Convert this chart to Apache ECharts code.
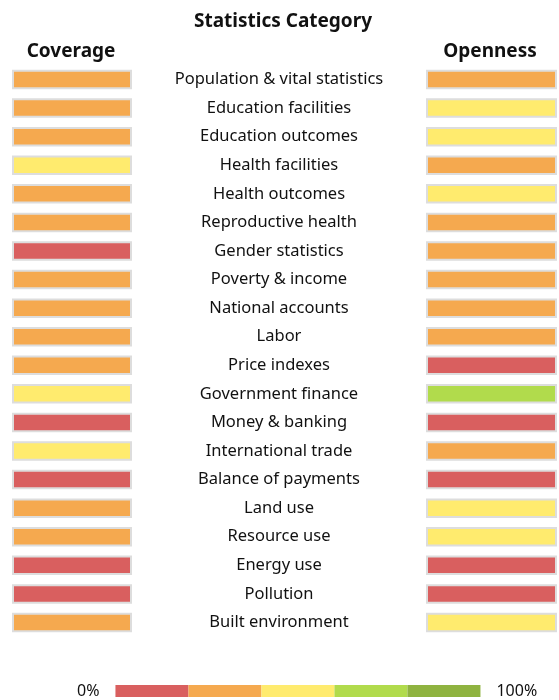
<!DOCTYPE html>
<html>
<head>
<meta charset="utf-8">
<script src="https://cdn.jsdelivr.net/npm/echarts@6/dist/echarts.min.js"></script>
<style>
  html, body { margin: 0; padding: 0; background: #fff; }
  #main { width: 559px; height: 700px; }
</style>
</head>
<body>
<div id="main"></div>
<script>
// 统计类别
var categories = ['Population & vital statistics', 'Education facilities', 'Education outcomes',
    'Health facilities', 'Health outcomes', 'Reproductive health', 'Gender statistics',
    'Poverty & income', 'National accounts', 'Labor', 'Price indexes', 'Government finance',
    'Money & banking', 'International trade', 'Balance of payments', 'Land use',
    'Resource use', 'Energy use', 'Pollution', 'Built environment'];
// 得分 (%)，按颜色区间估计
var coverage = [30, 30, 30, 50, 30, 30, 10, 30, 30, 30, 30, 50, 10, 50, 10, 30, 30, 10, 10, 30];
var openness = [30, 50, 50, 30, 50, 30, 30, 30, 30, 30, 10, 70, 10, 30, 10, 50, 50, 10, 10, 50];
var fullScale = 100; // 每格占满整列
var bands = [0, 20, 40, 60, 80, 100];
var bandColors = ['#d95f5f', '#f5a94f', '#ffeb6e', '#b1db4c', '#8fb340'];
var legendText = ['100%', '0%'];

var FONT = '"Noto Sans", "Open Sans", sans-serif';
var GAP = '\u2002\u2002'; // 图例文字与色条的间距

function cells(arr) {
    var out = [];
    for (var i = 0; i < arr.length; i++) {
        out.push([fullScale, categories[i], arr[i]]);
    }
    return out;
}

var pieces = [];
for (var i = 0; i < bandColors.length; i++) {
    pieces.push({ gte: bands[i], lt: bands[i + 1], color: bandColors[i] });
}
pieces[pieces.length - 1].lte = bands[bands.length - 1];
delete pieces[pieces.length - 1].lt;

var myChart = echarts.init(document.getElementById('main'));
var option = {
    backgroundColor: '#fff',
    animation: false,
    title: [
        { text: 'Statistics Category', left: 278, textAlign: 'center', top: 7.5,
          textStyle: { fontFamily: FONT, fontSize: 19, fontWeight: 'bold', color: '#111' } },
        { text: 'Coverage', left: 66, textAlign: 'center', top: 37,
          textStyle: { fontFamily: FONT, fontSize: 19, fontWeight: 'bold', color: '#111' } },
        { text: 'Openness', left: 485, textAlign: 'center', top: 37,
          textStyle: { fontFamily: FONT, fontSize: 19, fontWeight: 'bold', color: '#111' } }
    ],
    grid: [
        { left: 12, width: 120, top: 65.2, height: 571.6 },
        { left: 426, width: 131, top: 65.2, height: 571.6 }
    ],
    xAxis: [
        { gridIndex: 0, type: 'value', min: 0, max: fullScale, show: false },
        { gridIndex: 1, type: 'value', min: 0, max: fullScale, show: false }
    ],
    yAxis: [
        {
            gridIndex: 0, type: 'category', data: categories, inverse: true, position: 'right',
            axisLine: { show: false }, axisTick: { show: false }, splitLine: { show: false },
            axisLabel: { margin: 147, align: 'center', fontFamily: FONT, fontSize: 16.5, color: '#111' }
        },
        {
            gridIndex: 1, type: 'category', data: categories, inverse: true, show: false
        }
    ],
    visualMap: {
        type: 'piecewise',
        seriesIndex: [0, 1],
        dimension: 2,
        orient: 'horizontal',
        left: 77,
        top: 683,
        pieces: pieces,
        itemWidth: 73,
        itemHeight: 12,
        itemGap: 0,
        itemSymbol: 'rect',
        showLabel: false,
        text: [GAP + legendText[0], legendText[1] + GAP],
        padding: 0,
        hoverLink: false,
        selectedMode: false,
        textStyle: { fontFamily: FONT, fontSize: 16, color: '#111' }
    },
    series: [
        {
            name: 'Coverage', type: 'bar', xAxisIndex: 0, yAxisIndex: 0,
            data: cells(coverage), encode: { x: 0, y: 1 },
            barWidth: 19.5,
            itemStyle: { borderColor: '#dddddd', borderWidth: 2 },
            emphasis: { disabled: true }
        },
        {
            name: 'Openness', type: 'bar', xAxisIndex: 1, yAxisIndex: 1,
            data: cells(openness), encode: { x: 0, y: 1 },
            barWidth: 19.5,
            itemStyle: { borderColor: '#dddddd', borderWidth: 2 },
            emphasis: { disabled: true }
        }
    ]
};
myChart.setOption(option);
</script>
</body>
</html>
